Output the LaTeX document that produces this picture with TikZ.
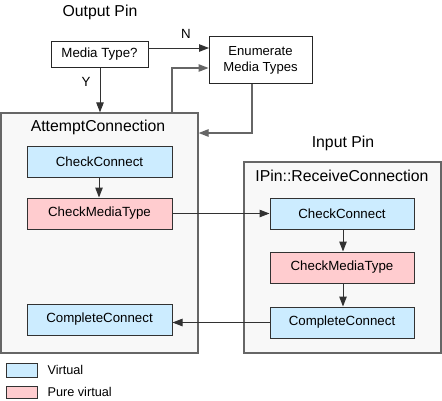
\documentclass[tikz,border=0pt]{standalone}
\usepackage{fontspec}
\setmainfont{Liberation Sans}
\usetikzlibrary{arrows.meta,positioning,calc}
\definecolor{vblue}{RGB}{204,236,255}
\definecolor{vpink}{RGB}{255,204,207}
\definecolor{outerfill}{RGB}{248,248,248}
\definecolor{lineg}{RGB}{50,50,50}
\begin{document}
\begin{tikzpicture}[x=1pt,y=-1pt,
  fn/.style={font=\fontsize{13.3}{15}\selectfont},
  ttl/.style={font=\fontsize{15.8}{18}\selectfont},
  plainbox/.style={draw=black!85,line width=1pt,fill=white,fn,inner sep=0pt},
  virt/.style={draw=lineg,line width=1pt,fill=vblue,fn,inner sep=0pt},
  pure/.style={draw=lineg,line width=1pt,fill=vpink,fn,inner sep=0pt},
  outer/.style={draw=black!60,line width=1.3pt,fill=outerfill,inner sep=0pt},
  arr/.style={draw=lineg,line width=1pt,-{Triangle[length=10pt,width=7.5pt]}},
  garr/.style={draw=black!60,line width=1.3pt,-{Triangle[length=10pt,width=7.5pt]}}
]
\useasboundingbox (0,0) rectangle (442,400);
\fill[white] (0,0) rectangle (442,400);

% Output pin
\node[ttl] (outlbl) at (100,12) {Output Pin};
\node[plainbox,minimum width=97pt,minimum height=26pt] (media) at (99.5,54) {Media Type?};
\node[plainbox,minimum width=103pt,minimum height=47pt,align=center,font=\fontsize{13.1}{16}\selectfont] (enum) at (260.5,60) {Enumerate\\Media Types};

% AttemptConnection
\node[outer,minimum width=197pt,minimum height=240pt] (att) at (99.5,233) {};
\node[ttl] (attlbl) at (98,127) {AttemptConnection};
\node[virt,minimum width=145pt,minimum height=31pt] (lcc) at (99.5,161.5) {CheckConnect};
\node[pure,minimum width=145pt,minimum height=31pt] (lcmt) at (99.5,213.5) {CheckMediaType};
\node[virt,minimum width=145pt,minimum height=31pt] (lcomp) at (99.5,319.5) {CompleteConnect};

% Input pin
\node[ttl] (inlbl) at (343,143) {Input Pin};
\node[outer,minimum width=197pt,minimum height=191pt] (ipin) at (342.5,257.5) {};
\node[ttl] (ipinlbl) at (342,176) {IPin::ReceiveConnection};
\node[virt,minimum width=144pt,minimum height=31pt] (rcc) at (342,213.5) {CheckConnect};
\node[pure,minimum width=144pt,minimum height=31pt] (rcmt) at (342,267.5) {CheckMediaType};
\node[virt,minimum width=144pt,minimum height=31pt] (rcomp) at (342,322.5) {CompleteConnect};

% connectors
\coordinate (m1) at (148,48);
\coordinate (e1) at (209,48);
\draw[arr] (m1) -- (e1);
\node[fn] (nlbl) at (186,34) {N};
\draw[arr] (media.south -| 100,0) -- (att.north -| 100,0);
\node[fn] (ylbl) at (86,82) {Y};
\coordinate (g1) at (172,68);
\draw[garr] (att.north -| 172,0) -- (g1) -- (g1 -| enum.west);
\coordinate (g2) at (252,133);
\draw[garr] (enum.south -| 252,0) -- (g2) -- (g2 -| att.east);
\draw[arr] (lcc.south -| 99,0) -- (lcmt.north -| 99,0);
\draw[arr] (lcmt.east) -- (rcc.west);
\draw[arr] (rcc.south -| 343,0) -- (rcmt.north -| 343,0);
\draw[arr] (rcmt.south -| 343,0) -- (rcomp.north -| 343,0);
\draw[arr] (rcomp.west) -- (rcomp.west -| lcomp.east);

% legend
\node[virt,minimum width=31pt,minimum height=14pt] (legv) at (21.5,370) {};
\node[anchor=west,font=\fontsize{12.7}{15}\selectfont] (legvt) at (44,370) {Virtual};
\node[pure,minimum width=31pt,minimum height=12pt] (legp) at (21.5,392) {};
\node[anchor=west,font=\fontsize{12.7}{15}\selectfont] (legpt) at (44,392) {Pure virtual};
\end{tikzpicture}
\end{document}
